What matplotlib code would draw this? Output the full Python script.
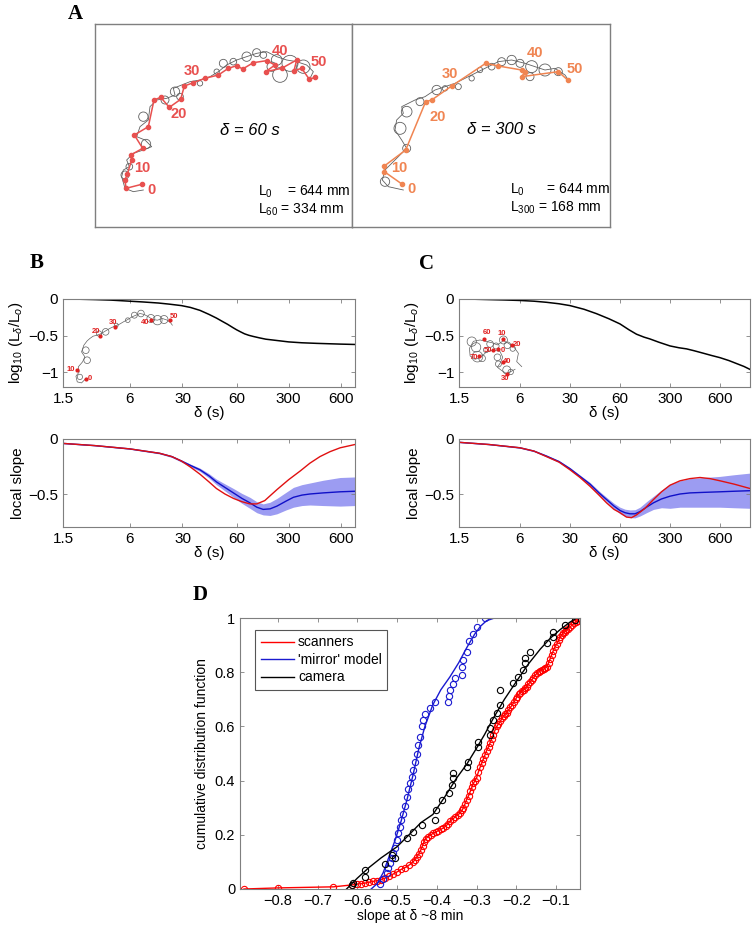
import numpy as np
import matplotlib
matplotlib.use("Agg")
import matplotlib.pyplot as plt
from matplotlib.patches import Circle

plt.rcParams['font.family'] = ['Liberation Sans', 'DejaVu Sans']
plt.rcParams['mathtext.fontset'] = 'custom'
plt.rcParams['mathtext.rm'] = 'Liberation Sans'
plt.rcParams['mathtext.it'] = 'Liberation Sans:italic'

GREY = "#7f7f7f"
RED_A = "#e8504f"
ORANGE_A = "#f08552"

# ---------------- panel A : trajectories (image coords) ----------------
A1_RED_X = [155, 108, 105, 112, 125, 122, 158, 133, 175, 192, 212, 238, 272, 283, 310, 345, 385, 415, 440, 458, 490, 530, 555, 527, 575, 620, 612, 635, 658, 675]
A1_RED_Y = [553, 565, 540, 522, 480, 465, 445, 405, 380, 300, 292, 322, 298, 258, 248, 235, 225, 205, 197, 207, 188, 182, 195, 215, 205, 180, 212, 205, 238, 232]
A1_GREY_X = [160, 130, 105, 95, 100, 118, 110, 130, 160, 185, 165, 140, 150, 175, 180, 200, 230, 255, 250, 275, 300, 330, 360, 385, 410, 440, 470, 500, 530, 560, 590, 620, 650, 670, 660]
A1_GREY_Y = [570, 575, 565, 530, 510, 500, 480, 460, 450, 440, 420, 410, 380, 360, 320, 300, 295, 285, 265, 255, 245, 240, 230, 215, 195, 180, 170, 160, 155, 170, 180, 185, 195, 215, 235]
A1_LOOPS = [(105, 525, 12), (118, 500, 10), (168, 432, 14), (160, 350, 14), (225, 300, 12), (255, 275, 14),
            (270, 290, 10), (330, 250, 8), (380, 215, 8), (400, 190, 12), (430, 185, 10), (470, 170, 14),
            (500, 158, 12), (520, 165, 10), (560, 180, 16), (600, 190, 24), (640, 200, 20), (570, 225, 22), (545, 200, 14)]
A1_LABELS = ["0", "10", "20", "30", "40", "50"]
A1_LAB_X = [185, 158, 265, 305, 570, 685]
A1_LAB_Y = [570, 505, 343, 212, 152, 185]

A2_RED_X = [172, 118, 118, 182, 242, 260, 320, 422, 460, 530, 540, 530, 640, 668]
A2_RED_Y = [553, 515, 498, 450, 305, 300, 258, 190, 198, 210, 215, 230, 215, 240]
A2_GREY_X = [175, 130, 112, 120, 150, 185, 170, 150, 155, 175, 170, 210, 240, 270, 300, 330, 370, 400, 430, 460, 500, 540, 570, 600, 630, 660, 670]
A2_GREY_Y = [570, 560, 540, 510, 480, 445, 420, 390, 360, 340, 320, 300, 290, 270, 260, 250, 230, 215, 200, 185, 180, 190, 200, 210, 205, 225, 240]
A2_LOOPS = [(120, 545, 14), (185, 445, 12), (165, 385, 18), (185, 335, 16), (225, 305, 12), (275, 270, 14),
            (300, 265, 8), (340, 260, 9), (380, 235, 8), (405, 210, 8), (440, 200, 10), (470, 185, 12),
            (500, 180, 14), (525, 190, 12), (560, 200, 18), (600, 210, 18), (640, 215, 12), (555, 230, 12)]
A2_LABELS = ["0", "10", "20", "30", "40", "50"]
A2_LAB_X = [200, 162, 278, 315, 570, 690]
A2_LAB_Y = [568, 503, 352, 222, 160, 208]

# ---------------- panels B / C : scale axis (tick positions in axis units) ----------------
TICK_LABELS = ["1.5", "6", "30", "60", "300", "600"]
B_TICK_POS = [0, 1.26, 2.25, 3.28, 4.25, 5.23]
B_XMAX = 5.5
C_TICK_POS = [0, 1.22, 2.22, 3.22, 4.22, 5.22]
C_XMAX = 5.82

B_TOP_U = [0, 0.3, 0.6, 0.9, 1.26, 1.5, 1.8, 2.0, 2.23, 2.4, 2.58, 2.75, 2.89, 3.0, 3.1, 3.2, 3.27, 3.35,
           3.42, 3.5, 3.58, 3.7, 3.82, 3.96, 4.1, 4.25, 4.5, 4.78, 5.0, 5.22, 5.5]
B_TOP_Y = [0, -0.003, -0.008, -0.015, -0.03, -0.04, -0.055, -0.07, -0.09, -0.115, -0.155, -0.21, -0.26, -0.305,
           -0.345, -0.39, -0.42, -0.45, -0.475, -0.495, -0.51, -0.53, -0.548, -0.56, -0.572, -0.585, -0.597,
           -0.605, -0.61, -0.615, -0.62]
C_TOP_U = [0, 0.3, 0.6, 0.9, 1.22, 1.5, 1.75, 2.0, 2.22, 2.5, 2.75, 3.0, 3.22, 3.4, 3.55, 3.7, 3.82, 4.0,
           4.22, 4.4, 4.55, 4.7, 4.89, 5.05, 5.22, 5.4, 5.55, 5.7, 5.82]
C_TOP_Y = [0, -0.003, -0.008, -0.013, -0.02, -0.03, -0.045, -0.065, -0.09, -0.14, -0.2, -0.27, -0.34, -0.42,
           -0.48, -0.52, -0.545, -0.59, -0.64, -0.665, -0.68, -0.705, -0.74, -0.77, -0.8, -0.84, -0.88, -0.92, -0.96]

B_RED_U = [0, 0.6, 1.26, 1.82, 2.05, 2.23, 2.4, 2.58, 2.75, 2.89, 3.05, 3.21, 3.37, 3.52, 3.65, 3.8, 4.03,
           4.25, 4.47, 4.65, 4.84, 5.03, 5.22, 5.5]
B_RED_Y = [-0.04, -0.06, -0.09, -0.13, -0.16, -0.2, -0.255, -0.32, -0.39, -0.45, -0.5, -0.54, -0.57, -0.59,
           -0.59, -0.56, -0.46, -0.37, -0.29, -0.22, -0.16, -0.115, -0.08, -0.05]
B_BLUE_U = [0, 0.6, 1.26, 1.82, 2.05, 2.23, 2.4, 2.58, 2.75, 2.89, 3.05, 3.21, 3.37, 3.52, 3.65, 3.77, 3.9,
            4.03, 4.2, 4.34, 4.5, 4.65, 4.9, 5.22, 5.5]
B_BLUE_Y = [-0.04, -0.06, -0.09, -0.13, -0.16, -0.2, -0.24, -0.28, -0.335, -0.39, -0.44, -0.49, -0.54, -0.58,
            -0.62, -0.64, -0.635, -0.61, -0.565, -0.53, -0.51, -0.5, -0.49, -0.48, -0.475]
B_BLUE_HW = [0.003, 0.003, 0.004, 0.006, 0.008, 0.01, 0.012, 0.015, 0.02, 0.025, 0.032, 0.04, 0.045, 0.05,
             0.05, 0.05, 0.06, 0.07, 0.08, 0.09, 0.095, 0.1, 0.115, 0.13, 0.13]

C_RED_U = [0, 0.6, 1.22, 1.5, 1.75, 2.0, 2.22, 2.42, 2.62, 2.8, 2.95, 3.1, 3.22, 3.35, 3.45, 3.55, 3.72,
           3.89, 4.05, 4.22, 4.42, 4.62, 4.82, 5.02, 5.22, 5.5, 5.82]
C_RED_Y = [-0.03, -0.05, -0.08, -0.11, -0.16, -0.21, -0.28, -0.35, -0.43, -0.51, -0.58, -0.64, -0.67, -0.71,
           -0.715, -0.69, -0.63, -0.55, -0.48, -0.42, -0.38, -0.36, -0.35, -0.36, -0.38, -0.41, -0.45]
C_BLUE_U = [0, 0.6, 1.22, 1.5, 1.75, 2.0, 2.22, 2.42, 2.62, 2.8, 2.95, 3.1, 3.22, 3.32, 3.42, 3.52, 3.62,
            3.75, 3.89, 4.05, 4.22, 4.42, 4.62, 4.9, 5.22, 5.5, 5.82]
C_BLUE_Y = [-0.03, -0.05, -0.08, -0.11, -0.155, -0.205, -0.27, -0.34, -0.41, -0.49, -0.55, -0.61, -0.65,
            -0.67, -0.68, -0.68, -0.66, -0.62, -0.58, -0.545, -0.52, -0.5, -0.49, -0.485, -0.48, -0.475, -0.47]
C_BLUE_HW = [0.003, 0.003, 0.005, 0.006, 0.008, 0.009, 0.01, 0.012, 0.015, 0.018, 0.02, 0.025, 0.03, 0.032,
             0.035, 0.037, 0.04, 0.05, 0.06, 0.08, 0.11, 0.12, 0.13, 0.135, 0.14, 0.15, 0.16]

# inset trajectories (image coords)
BI_X = [258, 245, 232, 228, 238, 235, 248, 255, 245, 252, 262, 270, 280, 292, 305, 318, 330, 345, 360, 372, 385, 398, 410, 422, 435, 448, 460, 475, 490, 505, 515, 520]
BI_Y = [325, 338, 335, 318, 305, 290, 275, 260, 245, 225, 212, 205, 198, 195, 190, 182, 175, 168, 162, 155, 148, 140, 135, 130, 133, 140, 148, 150, 145, 150, 158, 165]
BI_LOOPS = [(240, 320, 8), (262, 270, 10), (258, 240, 10), (298, 190, 8), (318, 185, 10), (350, 165, 6),
            (385, 150, 7), (405, 135, 9), (425, 130, 10), (455, 145, 12), (475, 150, 14), (495, 148, 12)]
BI_LABELS = ["0", "10", "20", "30", "40", "50"]
BI_LAB_X = [270, 213, 288, 340, 437, 525]
BI_LAB_Y = [325, 297, 183, 157, 157, 140]
BI_DOT_X = [258, 230, 300, 347, 455, 512]
BI_DOT_Y = [325, 300, 198, 170, 150, 148]

CI_X = [395, 380, 385, 372, 355, 340, 322, 305, 290, 270, 250, 238, 240, 255, 272, 290, 310, 330, 338, 330, 322, 335, 348, 362, 375]
CI_Y = [290, 275, 250, 232, 220, 212, 225, 218, 215, 210, 214, 235, 258, 268, 262, 245, 240, 245, 262, 280, 292, 302, 310, 305, 298]
CI_LOOPS = [(245, 215, 14), (258, 232, 14), (262, 260, 16), (276, 265, 10), (300, 222, 10), (318, 228, 9),
            (340, 210, 12), (352, 226, 10), (368, 236, 8), (322, 262, 10), (325, 282, 9), (350, 300, 12),
            (362, 306, 8), (288, 240, 8)]
CI_LABELS = ["60", "10", "20", "50", "0", "70", "40", "30"]
CI_LAB_X = [292, 335, 380, 293, 337, 250, 352, 345]
CI_LAB_Y = [187, 192, 225, 243, 243, 262, 275, 325]
CI_DOT_X = [282, 340, 365, 310, 325, 268, 338, 352]
CI_DOT_Y = [208, 208, 225, 240, 238, 258, 275, 312]

# ---------------- panel D : CDFs ----------------
SCAN_X = [-0.885, -0.80, -0.66, -0.614, -0.60, -0.59, -0.58, -0.57, -0.56, -0.55, -0.54, -0.53, -0.52, -0.51,
          -0.50, -0.49, -0.48, -0.47, -0.46, -0.455, -0.45, -0.445, -0.44, -0.436, -0.432, -0.428, -0.422,
          -0.415, -0.41, -0.403, -0.397, -0.39, -0.384, -0.378, -0.372, -0.367, -0.36, -0.354, -0.348, -0.342,
          -0.337, -0.333, -0.329, -0.325, -0.32, -0.316, -0.312, -0.308, -0.304, -0.30, -0.296, -0.291, -0.287,
          -0.283, -0.279, -0.275, -0.27, -0.266, -0.262, -0.258, -0.254, -0.249, -0.245, -0.24, -0.236, -0.232,
          -0.228, -0.224, -0.22, -0.215, -0.21, -0.206, -0.202, -0.198, -0.194, -0.19, -0.186, -0.182, -0.178,
          -0.174, -0.17, -0.165, -0.161, -0.157, -0.152, -0.148, -0.144, -0.14, -0.135, -0.131, -0.127, -0.123,
          -0.119, -0.115, -0.111, -0.107, -0.103, -0.098, -0.094, -0.09, -0.086, -0.082, -0.078, -0.074, -0.07,
          -0.065, -0.06, -0.055, -0.05, -0.045, -0.042]
SCAN_Y = [0.0, 0.004, 0.008, 0.015, 0.018, 0.02, 0.022, 0.025, 0.028, 0.031, 0.035, 0.04, 0.047, 0.055,
          0.063, 0.072, 0.079, 0.088, 0.1, 0.108, 0.118, 0.13, 0.145, 0.16, 0.175, 0.186, 0.193,
          0.2, 0.205, 0.21, 0.215, 0.22, 0.225, 0.232, 0.24, 0.25, 0.258, 0.266, 0.273, 0.28,
          0.29, 0.30, 0.315, 0.33, 0.345, 0.36, 0.375, 0.39, 0.40, 0.41, 0.43, 0.45, 0.465,
          0.48, 0.495, 0.51, 0.525, 0.54, 0.555, 0.57, 0.585, 0.60, 0.61, 0.62, 0.63, 0.64,
          0.645, 0.65, 0.66, 0.67, 0.68, 0.69, 0.70, 0.71, 0.718, 0.725, 0.73, 0.735, 0.74,
          0.746, 0.755, 0.765, 0.772, 0.78, 0.79, 0.797, 0.801, 0.805, 0.809, 0.812, 0.816, 0.82,
          0.835, 0.85, 0.865, 0.88, 0.893, 0.905, 0.918, 0.93, 0.938, 0.945, 0.95, 0.955, 0.961,
          0.967, 0.974, 0.98, 0.985, 0.99, 1.0]

MIRROR_X = [-0.543, -0.535, -0.526, -0.522, -0.518, -0.514, -0.51, -0.505, -0.501, -0.497, -0.493, -0.489, -0.484,
            -0.48, -0.476, -0.472, -0.467, -0.463, -0.46, -0.455, -0.451, -0.447, -0.442, -0.438, -0.434, -0.43,
            -0.417, -0.405, -0.372, -0.369, -0.367, -0.359, -0.354, -0.337, -0.337, -0.334, -0.325, -0.32, -0.309,
            -0.30, -0.279]
MIRROR_Y = [0.018, 0.036, 0.058, 0.077, 0.096, 0.115, 0.133, 0.15, 0.18, 0.206, 0.23, 0.255, 0.275,
            0.305, 0.34, 0.37, 0.39, 0.414, 0.44, 0.47, 0.5, 0.53, 0.56, 0.6, 0.625, 0.645,
            0.668, 0.69, 0.69, 0.712, 0.734, 0.755, 0.78, 0.79, 0.82, 0.845, 0.875, 0.915, 0.94,
            0.965, 1.0]
MIRROR_FIT_X = [-0.565, -0.55, -0.535, -0.52, -0.505, -0.49, -0.475, -0.46, -0.445, -0.43, -0.41, -0.39, -0.367,
                -0.345, -0.325, -0.305, -0.29, -0.275, -0.255, -0.04]
MIRROR_FIT_Y = [0.0, 0.02, 0.06, 0.12, 0.18, 0.25, 0.33, 0.42, 0.52, 0.60, 0.68, 0.735, 0.783,
                0.835, 0.89, 0.94, 0.97, 0.99, 1.0, 1.0]

CAM_X = [-0.614, -0.611, -0.581, -0.581, -0.53, -0.514, -0.505, -0.476, -0.46, -0.438, -0.405, -0.401, -0.388,
         -0.37, -0.363, -0.359, -0.359, -0.325, -0.321, -0.296, -0.296, -0.266, -0.266, -0.258, -0.249, -0.241,
         -0.241, -0.208, -0.195, -0.183, -0.178, -0.178, -0.165, -0.123, -0.107, -0.107, -0.077, -0.052]
CAM_Y = [0.015, 0.022, 0.045, 0.07, 0.094, 0.125, 0.114, 0.188, 0.21, 0.236, 0.255, 0.29, 0.33,
         0.354, 0.384, 0.41, 0.428, 0.45, 0.47, 0.525, 0.543, 0.568, 0.594, 0.624, 0.649, 0.679,
         0.734, 0.76, 0.783, 0.808, 0.834, 0.852, 0.875, 0.907, 0.93, 0.949, 0.974, 0.993]
CAM_FIT_X = [-0.627, -0.6, -0.57, -0.54, -0.5, -0.47, -0.44, -0.41, -0.38, -0.35, -0.325, -0.3, -0.28,
             -0.258, -0.23, -0.198, -0.17, -0.14, -0.115, -0.09, -0.065, -0.048]
CAM_FIT_Y = [0.0, 0.04, 0.08, 0.115, 0.156, 0.2, 0.245, 0.275, 0.34, 0.41, 0.46, 0.52, 0.57,
             0.63, 0.70, 0.77, 0.83, 0.885, 0.925, 0.957, 0.985, 1.0]
D_XTICKS = [-0.8, -0.7, -0.6, -0.5, -0.4, -0.3, -0.2, -0.1]
D_YTICKS = [0, 0.2, 0.4, 0.6, 0.8, 1]
D_YTICKLABELS = ["0", "0.2", "0.4", "0.6", "0.8", "1"]


def matlab_axes(ax):
    for s in ax.spines.values():
        s.set_color(GREY)
        s.set_linewidth(0.8)
    ax.tick_params(direction='in', top=True, right=True, length=3, width=0.6,
                   color=GREY, labelcolor='black')


def draw_traj(ax, gx, gy, loops, rx, ry, col, labels, lx, ly, fs, lw_g=0.6, lw_r=1.1, ms=3, dots=None):
    ax.plot(gx, gy, color="#606060", lw=lw_g)
    for cx, cy, r in loops:
        ax.add_patch(Circle((cx, cy), r, fill=False, ec="#606060", lw=lw_g))
    if rx is not None:
        ax.plot(rx, ry, color=col, lw=lw_r, marker='o', ms=ms, mec=col, mfc=col)
    if dots is not None:
        ax.plot(dots[0], dots[1], 'o', color=col, ms=ms, mec=col)
    for t, x, y in zip(labels, lx, ly):
        ax.text(x, y, t, color=col, fontsize=fs, fontweight='bold', ha='center', va='center')


fig = plt.figure(figsize=(7.54, 9.27), dpi=100)
W, H = 754.0, 927.0


def px_axes(x0, y0, x1, y1):
    return fig.add_axes([x0 / W, 1 - y1 / H, (x1 - x0) / W, (y1 - y0) / H])


# ---- A
axA1 = px_axes(95, 24, 352, 227)
axA2 = px_axes(352, 24, 610, 227)
for ax in (axA1, axA2):
    ax.set_xticks([])
    ax.set_yticks([])
    for s in ax.spines.values():
        s.set_color(GREY)
        s.set_linewidth(1.0)
axA1.set_xlim(15, 786)
axA1.set_ylim(681, 72)
axA2.set_xlim(21, 795)
axA2.set_ylim(681, 72)
draw_traj(axA1, A1_GREY_X, A1_GREY_Y, A1_LOOPS, A1_RED_X, A1_RED_Y, RED_A, A1_LABELS, A1_LAB_X, A1_LAB_Y, 10.5)
draw_traj(axA2, A2_GREY_X, A2_GREY_Y, A2_LOOPS, A2_RED_X, A2_RED_Y, ORANGE_A, A2_LABELS, A2_LAB_X, A2_LAB_Y, 10.5)
axA1.text(480, 392, "δ = 60 s", fontsize=12, style='italic', ha='center', va='center')
axA2.text(470, 388, "δ = 300 s", fontsize=12, style='italic', ha='center', va='center')
axA1.text(505, 575, r"L$_\mathrm{0}$    = 644 mm", fontsize=10, va='center')
axA1.text(505, 628, r"L$_\mathrm{60}$ = 334 mm", fontsize=10, va='center')
axA2.text(495, 570, r"L$_\mathrm{0}$      = 644 mm", fontsize=10, va='center')
axA2.text(495, 622, r"L$_\mathrm{300}$ = 168 mm", fontsize=10, va='center')

# ---- B / C
ylab_top = r"log$_{10}$ (L$_\delta$/L$_o$)"
for (x0, x1, ticks, xmax, top_u, top_y, red_u, red_y, bu, by, bhw) in [
        (63, 355, B_TICK_POS, B_XMAX, B_TOP_U, B_TOP_Y, B_RED_U, B_RED_Y, B_BLUE_U, B_BLUE_Y, B_BLUE_HW),
        (459, 750, C_TICK_POS, C_XMAX, C_TOP_U, C_TOP_Y, C_RED_U, C_RED_Y, C_BLUE_U, C_BLUE_Y, C_BLUE_HW)]:
    at = px_axes(x0, 299, x1, 387)
    ab = px_axes(x0, 439, x1, 527)
    at.plot(top_u, top_y, color='black', lw=1.1)
    at.set_ylim(-1.2, 0)
    at.set_yticks([-1, -0.5, 0])
    at.set_yticklabels(["\u22121", "\u22120.5", "0"])
    at.set_ylabel(ylab_top, fontsize=11, labelpad=2)
    by = np.array(by)
    bhw = np.array(bhw)
    ab.fill_between(bu, by - bhw, by + bhw, color="#9c9cf2", lw=0)
    ab.plot(bu, by, color="#1010c8", lw=1.0)
    ab.plot(red_u, red_y, color="#e01010", lw=1.0)
    ab.set_ylim(-0.8, 0)
    ab.set_yticks([-0.5, 0])
    ab.set_yticklabels(["\u22120.5", "0"])
    ab.set_ylabel("local slope", fontsize=11, labelpad=2)
    for ax in (at, ab):
        ax.set_xlim(0, xmax)
        ax.set_xticks(ticks)
        ax.set_xticklabels(TICK_LABELS)
        ax.set_xlabel("δ (s)", fontsize=11, labelpad=0)
        matlab_axes(ax)
        ax.tick_params(labelsize=11)
    if x0 < 100:
        ins = at.inset_axes([0.007, 0.02, 0.39, 0.91])
        ins.set_xlim(195, 540)
        ins.set_ylim(345, 105)
        draw_traj(ins, BI_X, BI_Y, BI_LOOPS, None, None, "#e02020", BI_LABELS, BI_LAB_X, BI_LAB_Y, 5.5,
                  lw_g=0.5, ms=2, dots=(BI_DOT_X, BI_DOT_Y))
    else:
        ins = at.inset_axes([0.021, 0.08, 0.206, 0.625])
        ins.set_xlim(225, 405)
        ins.set_ylim(330, 165)
        draw_traj(ins, CI_X, CI_Y, CI_LOOPS, None, None, "#e02020", CI_LABELS, CI_LAB_X, CI_LAB_Y, 5.5,
                  lw_g=0.5, ms=2, dots=(CI_DOT_X, CI_DOT_Y))
    ins.axis('off')
    ins.patch.set_alpha(0)

# ---- D
axD = px_axes(240, 618, 580, 889)
axD.plot(SCAN_X, SCAN_Y, color="#ff0000", lw=1.0, marker='o', ms=4.5, mfc='none', mec="#ff0000", mew=0.8,
         label="scanners")
axD.plot(MIRROR_X, MIRROR_Y, 'o', ms=4.5, mfc='none', mec="#1a1ad0", mew=0.8)
axD.plot(MIRROR_FIT_X, MIRROR_FIT_Y, color="#1a1ad0", lw=1.0, label="'mirror' model")
axD.plot(CAM_X, CAM_Y, 'o', ms=4.5, mfc='none', mec='black', mew=0.8)
axD.plot(CAM_FIT_X, CAM_FIT_Y, color='black', lw=1.0, label="camera")
axD.set_xlim(-0.895, -0.04)
axD.set_ylim(0, 1)
axD.set_xticks(D_XTICKS)
axD.set_xticklabels(["\u2212%.1f" % abs(v) for v in D_XTICKS])
axD.set_yticks(D_YTICKS)
axD.set_yticklabels(D_YTICKLABELS)
axD.set_xlabel("slope at δ ~8 min", fontsize=10, labelpad=1)
axD.set_ylabel("cumulative distribution function", fontsize=10, labelpad=4)
matlab_axes(axD)
axD.tick_params(labelsize=10.5)
h, l = axD.get_legend_handles_labels()
leg = axD.legend(h, l, loc='upper left', bbox_to_anchor=(0.044, 0.956), borderaxespad=0, fontsize=10,
                 fancybox=False, framealpha=1, edgecolor='#555555', handlelength=2.4, handletextpad=0.3,
                 labelspacing=0.25, borderpad=0.4)
for lh in leg.get_lines():
    lh.set_marker('')
leg.get_frame().set_linewidth(0.8)

# ---- panel letters
for t, x, y in [("A", 75, 14), ("B", 37, 263), ("C", 426, 264), ("D", 200, 595)]:
    fig.text(x / W, 1 - y / H, t, fontsize=15, fontweight='bold', family='Liberation Serif',
             ha='center', va='center')

fig.savefig("out.png", dpi=100)
